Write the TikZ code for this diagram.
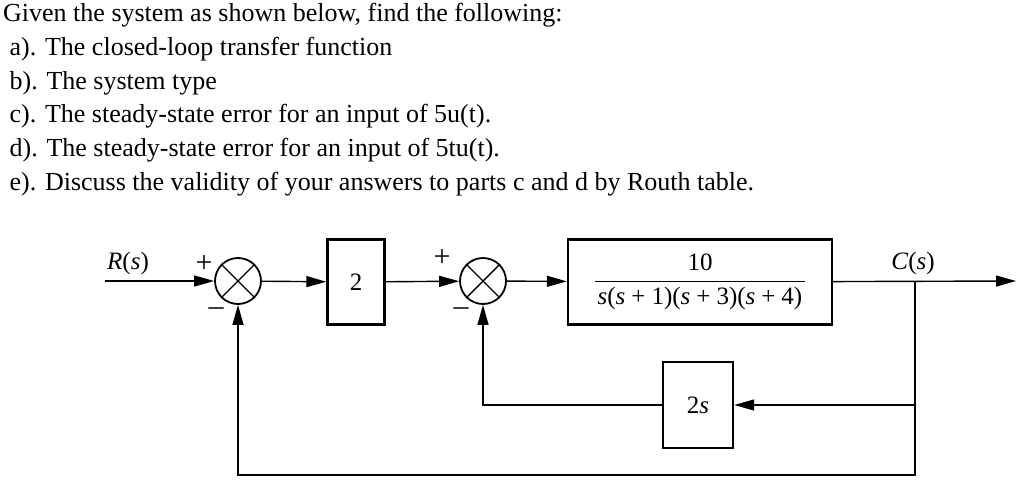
\documentclass[tikz,border=0pt]{standalone}
\usepackage{fontspec}
\usepackage{amsmath}
\setmainfont{Liberation Serif}
\usetikzlibrary{arrows.meta}

\newcommand{\pl}{\kern6pt+\kern6pt}

\begin{document}
\begin{tikzpicture}[x=1pt, y=-1pt,
    blockbox/.style={draw, line width=2.4pt, inner sep=0pt},
    sumpt/.style={draw, circle, line width=1.8pt, minimum size=46pt, inner sep=0pt},
    sig/.style={line width=1.4pt, -{Triangle[length=20pt, width=11pt]}},
    wire/.style={line width=1.4pt},
    lbl/.style={font=\fontsize{25}{29}\selectfont},
    sgn/.style={font=\fontsize{30}{30}\selectfont, inner sep=0pt}]
\useasboundingbox (0,0) rectangle (1024,495);

\node[anchor=north west, align=left, inner sep=0pt,
      font=\fontsize{26}{33.8}\selectfont] (question) at (3,3)
      {Given the system as shown below, find the following:\\
       \ a). The closed-loop transfer function\\
       \ b). The system type\\
       \ c). The steady-state error for an input of 5u(t).\\
       \ d). The steady-state error for an input of 5tu(t).\\
       \ e). Discuss the validity of your answers to parts c and d by Routh table.};

% forward path
\coordinate (in) at (105,281);
\node[sumpt] (sum1) at (238,281) {};
\node[blockbox, lbl, minimum width=57pt, minimum height=85pt] (gain) at (356,282) {2};
\node[sumpt] (sum2) at (483,281) {};
\node[blockbox, lbl, minimum width=264pt, minimum height=85pt] (plant) at (700,282)
      {$\dfrac{\text{10}}{\text{\kern3pt\textit{s}(\textit{s}\pl1)(\textit{s}\pl3)(\textit{s}\pl4)\kern3pt}}$};
\coordinate (branch) at (915,281);
\coordinate (out) at (1016,281);

% feedback path
\node[blockbox, lbl, minimum width=70pt, minimum height=86pt] (deriv) at (698,405) {2\textit{s}};
\coordinate (loopcorner) at (915,475);

\draw[wire] (sum1.north west) -- (sum1.south east) (sum1.north east) -- (sum1.south west);
\draw[wire] (sum2.north west) -- (sum2.south east) (sum2.north east) -- (sum2.south west);

\draw[sig] (in) -- (sum1);
\draw[sig] (sum1) -- (gain);
\draw[sig] (gain) -- (sum2);
\draw[sig] (sum2) -- (plant);
\draw[sig] (plant) -- (out);
\draw[sig] (branch) |- (deriv);
\draw[sig] (deriv) -| (sum2);
\draw[sig] (branch) -- (loopcorner) -| (sum1);

% labels
\node[lbl] (rlabel) at (128,263) {\textit{R}(\textit{s})};
\node[lbl] (clabel) at (913,263) {\textit{C}(\textit{s})};
\node[sgn] (plus1) at (204,264) {+};
\node[sgn] (minus1) at (216,312) {\textendash};
\node[sgn] (plus2) at (442,258) {+};
\node[sgn] (minus2) at (461,312) {\textendash};
\end{tikzpicture}
\end{document}
